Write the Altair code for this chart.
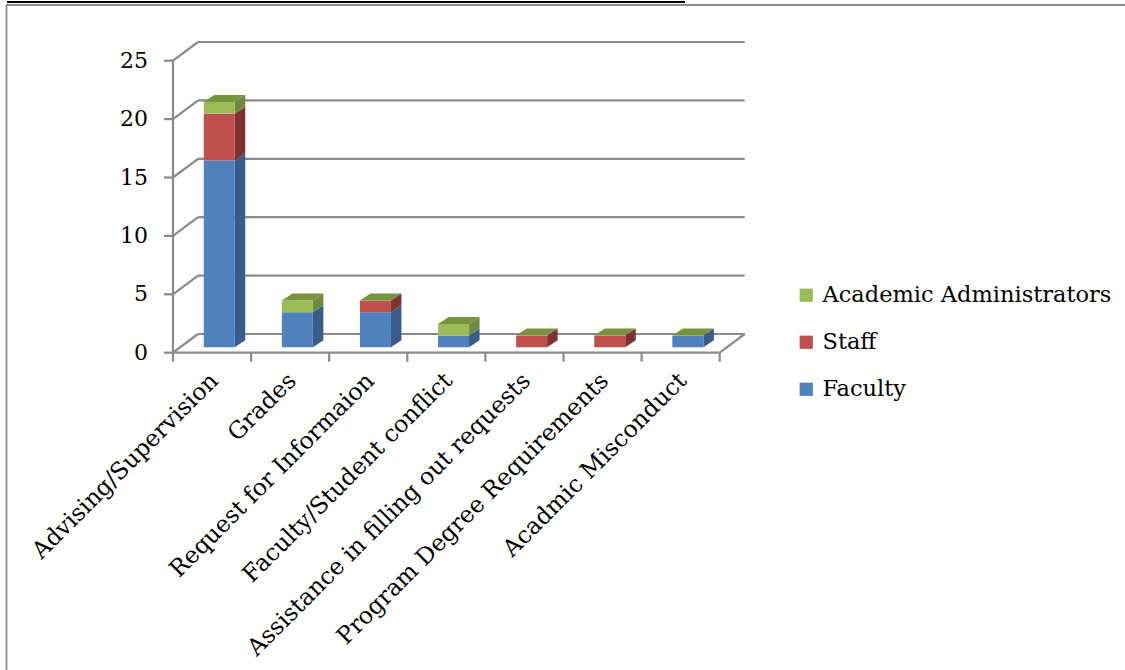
import altair as alt
import pandas as pd

# ---------------- data ----------------
categories = ["Advising/Supervision", "Grades", "Request for Informaion",
              "Faculty/Student conflict", "Assistance in filling out requests",
              "Program Degree Requirements", "Acadmic Misconduct"]
series = ["Faculty", "Staff", "Academic Administrators"]
faculty = [16, 3, 3, 1, 0, 0, 1]
staff = [4, 0, 1, 0, 1, 1, 0]
admins = [1, 1, 0, 1, 0, 0, 0]
y_ticks = [0, 5, 10, 15, 20, 25]

front_colors = ["#4F81BD", "#C0504D", "#9BBB59"]
side_colors = ["#385D8A", "#7F3331", "#71893F"]
top_color = "#77933C"
grid_color = "#8A8A8A"
FONT = "DejaVu Serif"

# ---------------- geometry (style constants) ----------------
W, H = 1125, 670
X0, Y0 = 173, 352.7          # pixel of front-left floor corner
CAT_PX, UNIT_PX = 78.1, 11.68
WALL_DX, WALL_DY = 25 / CAT_PX, 18.7 / UNIT_PX
BAR_OX, BAR_OY = 7.2 / CAT_PX, 5.4 / UNIT_PX
BAR_DX, BAR_DY = 10.5 / CAT_PX, 7.0 / UNIT_PX
BAR_HW = 15.5 / CAT_PX
N = len(categories)

xscale = alt.Scale(domain=[-X0 / CAT_PX, (W - X0) / CAT_PX], nice=False, zero=False)
yscale = alt.Scale(domain=[(Y0 - H) / UNIT_PX, Y0 / UNIT_PX], nice=False, zero=False)


def X(f):
    return alt.X(f, type="quantitative", scale=xscale, axis=None)


def Y(f):
    return alt.Y(f, type="quantitative", scale=yscale, axis=None)


values = [faculty, staff, admins]

# bar segments
seg_rows, side_rows, top_rows = [], [], []
sid = 0
for i, cat in enumerate(categories):
    cx = i + 0.5 + BAR_OX
    xl, xr = cx - BAR_HW, cx + BAR_HW
    cum = 0
    for s, name in enumerate(series):
        v = values[s][i]
        if v > 0:
            y1, y2 = cum + BAR_OY, cum + v + BAR_OY
            seg_rows.append(dict(cat=cat, series=name, x1=xl, x2=xr, y1=y1, y2=y2))
            side_rows.append(dict(id=sid, x=xr, lo=y1, hi=y2, shade=side_colors[s]))
            side_rows.append(dict(id=sid, x=xr + BAR_DX, lo=y1 + BAR_DY, hi=y2 + BAR_DY,
                                  shade=side_colors[s]))
            sid += 1
        cum += v
    top_rows.append(dict(cat=cat, y=cum + BAR_OY, xl=xl, xr=xr))
    top_rows.append(dict(cat=cat, y=cum + BAR_OY + BAR_DY, xl=xl + BAR_DX, xr=xr + BAR_DX))

seg_df = pd.DataFrame(seg_rows)
side_df = pd.DataFrame(side_rows)
top_df = pd.DataFrame(top_rows)

# wall / floor lines
lines = []
for v in y_ticks:
    lines.append(dict(x=WALL_DX, x2=N + WALL_DX, y=v + WALL_DY, y2=v + WALL_DY))  # back wall
    lines.append(dict(x=0, x2=WALL_DX, y=v, y2=v + WALL_DY))                      # side wall
    lines.append(dict(x=-9 / CAT_PX, x2=0, y=v, y2=v))                            # tick
lines.append(dict(x=0, x2=0, y=0, y2=max(y_ticks)))                                # front axis
lines.append(dict(x=0, x2=N, y=0, y2=0))                                           # floor front
lines.append(dict(x=N, x2=N + WALL_DX, y=0, y2=WALL_DY))                           # floor right
for i in range(N + 1):
    lines.append(dict(x=i, x2=i, y=0, y2=-9 / UNIT_PX))                            # cat ticks
lines_df = pd.DataFrame(lines)

ytick_df = pd.DataFrame(dict(v=y_ticks, label=[str(t) for t in y_ticks]))
cat_df = pd.DataFrame(dict(cat=categories, x=[i + 0.53 for i in range(N)],
                           y=[-2.1] * N))

# ---------------- layers ----------------
grid = alt.Chart(lines_df).mark_rule(color=grid_color, strokeWidth=2.2).encode(
    x=X("x"), x2="x2", y=Y("y"), y2="y2")

sides = alt.Chart(side_df).mark_area(orient="vertical").encode(
    x=X("x"), y=Y("hi"), y2="lo", detail="id:N",
    fill=alt.Fill("shade:N", scale=None))

fronts = alt.Chart(seg_df).mark_rect().encode(
    x=X("x1"), x2="x2", y=Y("y1"), y2="y2",
    color=alt.Color("series:N",
                    scale=alt.Scale(domain=series[::-1], range=front_colors[::-1]),
                    legend=alt.Legend(title=None, orient="none", legendX=795, legendY=284,
                                      symbolType="square", symbolSize=175,
                                      symbolStrokeWidth=0, labelFont=FONT,
                                      labelFontSize=22.5, labelColor="black",
                                      rowPadding=24, labelOffset=5, padding=0,
                                      labelLimit=400)))

tops = alt.Chart(top_df).mark_area(orient="horizontal", color=top_color).encode(
    y=Y("y"), x=X("xl"), x2="xr", detail="cat:N")

ylabels = alt.Chart(ytick_df).mark_text(align="right", baseline="middle", dx=-25,
                                        font=FONT, fontSize=22, color="black").encode(
    x=alt.X("zero:Q", scale=xscale, axis=None), y=Y("v"), text="label:N"
).transform_calculate(zero="0")

xlabels = alt.Chart(cat_df).mark_text(align="right", baseline="middle", angle=315,
                                      font=FONT, fontSize=23.5, color="black").encode(
    x=X("x"), y=Y("y"), text="cat:N")

one = pd.DataFrame({"a": [0]})
frame_top = alt.Chart(one).mark_rule(color="#8C8C8C", strokeWidth=1.8).encode(
    x=alt.value(6), x2=alt.value(W), y=alt.value(5), y2=alt.value(5))
frame_left = alt.Chart(one).mark_rule(color="#8C8C8C", strokeWidth=1.8).encode(
    x=alt.value(6.5), x2=alt.value(6.5), y=alt.value(5), y2=alt.value(H))
black_line = alt.Chart(one).mark_rule(color="black", strokeWidth=2).encode(
    x=alt.value(7), x2=alt.value(685), y=alt.value(2), y2=alt.value(2))

chart = alt.layer(frame_top, frame_left, black_line, grid, sides, fronts, tops,
                  ylabels, xlabels).properties(
    width=W, height=H, autosize=alt.AutoSizeParams(type="none"), padding=0,
    background="white"
).configure_view(stroke=None)

chart.save("out.html", embed_options={"renderer": "svg", "actions": False})
